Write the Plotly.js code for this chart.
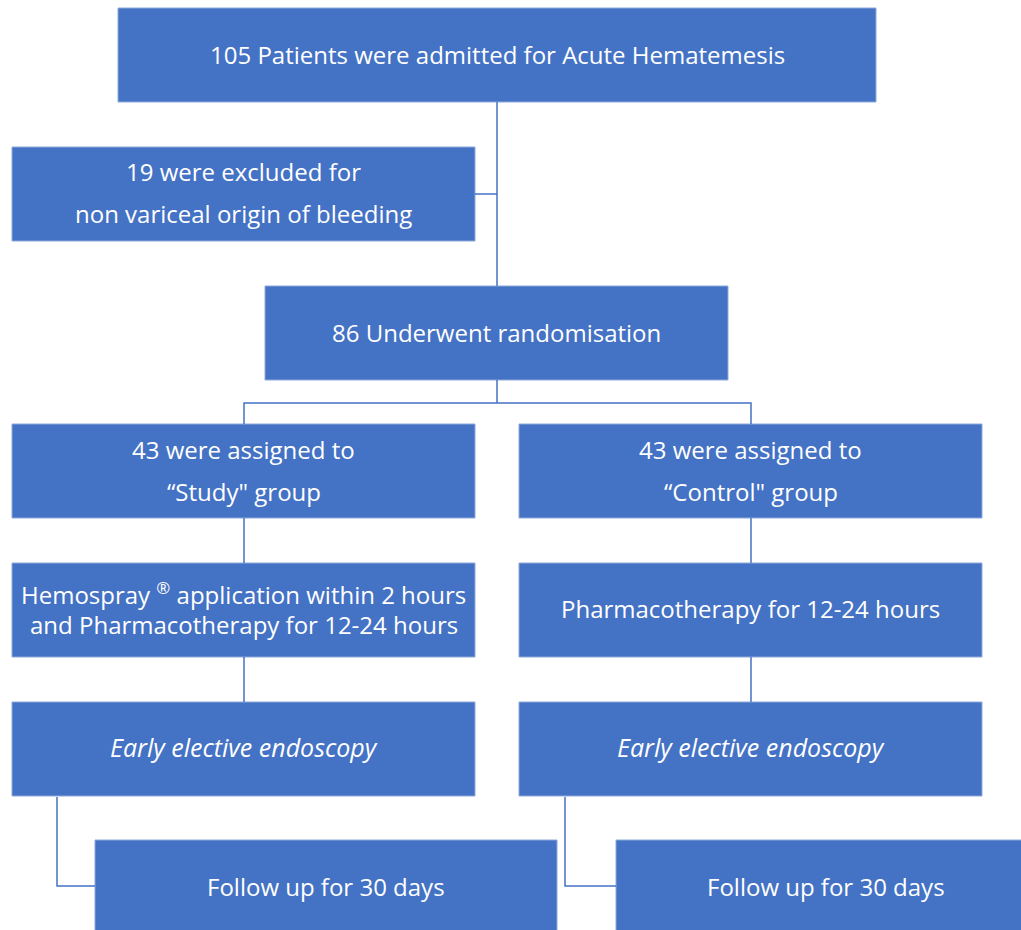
<!DOCTYPE html>
<html>
<head>
<meta charset="utf-8">
<script src="https://cdn.plot.ly/plotly-3.0.1.min.js"></script>
<style>html,body{margin:0;padding:0;background:#fff;}#chart{width:1021px;height:930px;}</style>
</head>
<body>
<div id="chart"></div>
<script>
// ---- content ----
const nodeIds = ["admitted","excluded","randomised","study","control","hemospray","pharmaco","earlyStudy","earlyControl","followStudy","followControl"];
const nodeLines = [
  ["105 Patients were admitted for Acute Hematemesis"],
  ["19 were excluded for","non variceal origin of bleeding"],
  ["86 Underwent randomisation"],
  ["43 were assigned to","\u201cStudy\" group"],
  ["43 were assigned to","\u201cControl\" group"],
  ["Hemospray <sup>\u00ae</sup> application within 2 hours","and Pharmacotherapy for 12-24 hours"],
  ["Pharmacotherapy for 12-24 hours"],
  ["Early elective endoscopy"],
  ["Early elective endoscopy"],
  ["Follow up for 30 days"],
  ["Follow up for 30 days"]
];
const nodeItalic = [false,false,false,false,false,false,false,true,true,false,false];

// ---- layout geometry (pixels, y down) ----
const geom = {
  admitted:     {box:[118,876,8,102],   tx:497, ty:[54]},
  excluded:     {box:[12,475,147,241],  tx:243.5, ty:[171,213]},
  randomised:   {box:[265,728,286,380], tx:496.5, ty:[332]},
  study:        {box:[12,475,424,518],  tx:243.5, ty:[449,491]},
  control:      {box:[519,982,424,518], tx:750.5, ty:[449,491]},
  hemospray:    {box:[12,475,563,657],  tx:243.5, ty:[593,624]},
  pharmaco:     {box:[519,982,563,657], tx:750.5, ty:[608]},
  earlyStudy:   {box:[12,475,702,796],  tx:243.5, ty:[747], size:25},
  earlyControl: {box:[519,982,702,796], tx:750.5, ty:[747], size:25},
  followStudy:  {box:[95,557,840,936],  tx:326, ty:[886]},
  followControl:{box:[616,1040,840,936],tx:826, ty:[886]}
};
const connectors = [
  "M497,102 L497,286",
  "M475,194 L497,194",
  "M497,380 L497,403 M244,424 L244,403 L751,403 L751,424",
  "M244,518 L244,563", "M751,518 L751,563",
  "M244,657 L244,702", "M751,657 L751,702",
  "M57,797 L57,886 L95,886",
  "M565,797 L565,886 L616,886"
];

const BLUE = "#4472C4";
const FONT = "Open Sans, Noto Sans, sans-serif";
const shapes = [];
const annotations = [];
nodeIds.forEach((id,i)=>{
  const g = geom[id];
  shapes.push({type:"rect", xref:"x", yref:"y", x0:g.box[0], x1:g.box[1], y0:g.box[2], y1:g.box[3],
    fillcolor:BLUE, line:{color:"#8EA9DB", width:1}, layer:"below"});
  nodeLines[i].forEach((t,j)=>{
    annotations.push({xref:"x", yref:"y", x:g.tx, y:g.ty[j], text: nodeItalic[i] ? "<i>"+t+"</i>" : t,
      showarrow:false, xanchor:"center", yanchor:"middle",
      font:{family:FONT, size:g.size || 24, color:"#ffffff"}});
  });
});
connectors.forEach(p=>shapes.push({type:"path", xref:"x", yref:"y", path:p, line:{color:BLUE, width:1.5}}));

Plotly.newPlot("chart", [], {
  width:1021, height:930, margin:{l:0,r:0,t:0,b:0},
  paper_bgcolor:"#ffffff", plot_bgcolor:"#ffffff",
  xaxis:{range:[0,1021], visible:false, fixedrange:true},
  yaxis:{range:[930,0], visible:false, fixedrange:true},
  shapes:shapes, annotations:annotations, showlegend:false
}, {displayModeBar:false, staticPlot:true});
</script>
</body>
</html>
